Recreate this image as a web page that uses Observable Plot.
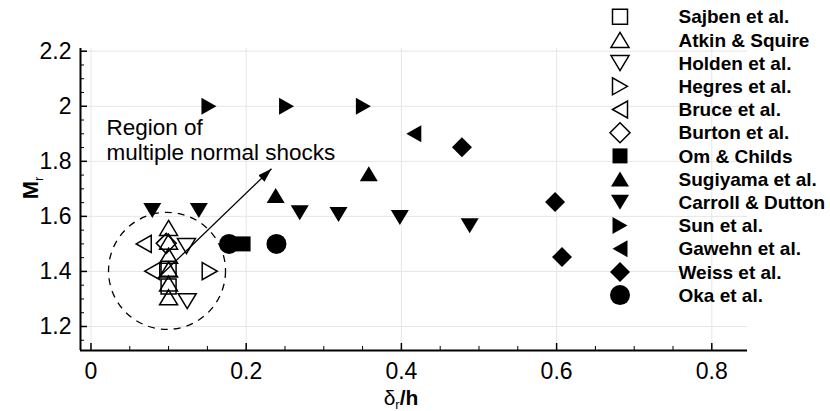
<!DOCTYPE html>
<html>
<head>
<meta charset="utf-8">
<script src="https://cdn.jsdelivr.net/npm/d3@7"></script>
<script src="https://cdn.jsdelivr.net/npm/@observablehq/plot@0.6"></script>
<style>
  html, body { margin: 0; padding: 0; background: #fff; }
  #chart { position: relative; width: 830px; height: 411px; }
</style>
</head>
<body>
<div id="chart"></div>
<script>
// ---- data ----
const seriesNames = ["Sajben et al.", "Atkin & Squire", "Holden et al.", "Hegres et al.", "Bruce et al.",
  "Burton et al.", "Om & Childs", "Sugiyama et al.", "Carroll & Dutton", "Sun et al.",
  "Gawehn et al.", "Weiss et al.", "Oka et al."];
const seriesShapes = ["square", "triUp", "triDown", "triRight", "triLeft", "diamond",
  "square", "triUp", "triDown", "triRight", "triLeft", "diamond", "circle"];
const seriesFilled = [false, false, false, false, false, false, true, true, true, true, true, true, true];

const sajben   = [[0.100, 1.410], [0.100, 1.345]];
const atkin    = [[0.100, 1.558], [0.100, 1.508], [0.100, 1.457], [0.100, 1.407], [0.100, 1.356], [0.100, 1.306]];
const holden   = [[0.123, 1.492], [0.124, 1.292]];
const hegres   = [[0.153, 1.401]];
const bruce    = [[0.068, 1.500], [0.079, 1.401]];
const burton   = [[0.097, 1.502]];
const omChilds = [[0.196, 1.500]];
const sugiyama = [[0.238, 1.676], [0.358, 1.755]];
const carroll  = [[0.079, 1.621], [0.139, 1.621], [0.269, 1.613], [0.319, 1.607], [0.398, 1.596], [0.488, 1.566]];
const sun      = [[0.152, 2.000], [0.252, 2.000], [0.351, 2.000]];
const gawehn   = [[0.416, 1.900]];
const weiss    = [[0.478, 1.851], [0.598, 1.652], [0.607, 1.452]];
const oka      = [[0.178, 1.500], [0.239, 1.500]];
const seriesData = [sajben, atkin, holden, hegres, bruce, burton, omChilds, sugiyama, carroll, sun, gawehn, weiss, oka];

const xMajor = [0, 0.2, 0.4, 0.6, 0.8];
const xMajorLabels = ["0", "0.2", "0.4", "0.6", "0.8"];
const yMajor = [1.2, 1.4, 1.6, 1.8, 2.0, 2.2];
const yMajorLabels = ["1.2", "1.4", "1.6", "1.8", "2", "2.2"];
const xMinor = [0.05, 0.1, 0.15, 0.25, 0.3, 0.35, 0.45, 0.5, 0.55, 0.65, 0.7, 0.75];
const yMinor = [1.15, 1.25, 1.3, 1.35, 1.45, 1.5, 1.55, 1.65, 1.7, 1.75, 1.85, 1.9, 1.95, 2.05, 2.1, 2.15];
const xDomain = [-0.0135, 0.846];
const yDomain = [1.1128, 2.2098];

const regionCenter = [{x: 0.098, y: 1.402}];
const regionLabel = [{x: 0.02, y: 1.879, text: "Region of\nmultiple normal shocks"}];
const arrowData = [{x1: 0.0857, y1: 1.374, x2: 0.2326, y2: 1.773}];

// ---- symbols ----
function poly(ctx, pts) {
  ctx.moveTo(pts[0][0], pts[0][1]);
  for (let i = 1; i < pts.length; ++i) ctx.lineTo(pts[i][0], pts[i][1]);
  ctx.closePath();
}
const symbols = {
  square:   {draw(c, s) { const k = Math.sqrt(s / Math.PI) / 10, h = 7.5 * k; poly(c, [[-h,-h],[h,-h],[h,h],[-h,h]]); }},
  triUp:    {draw(c, s) { const k = Math.sqrt(s / Math.PI) / 10; poly(c, [[0,-7.5*k],[9*k,7.5*k],[-9*k,7.5*k]]); }},
  triDown:  {draw(c, s) { const k = Math.sqrt(s / Math.PI) / 10; poly(c, [[0,7.5*k],[9*k,-7.5*k],[-9*k,-7.5*k]]); }},
  triRight: {draw(c, s) { const k = Math.sqrt(s / Math.PI) / 10; poly(c, [[7.5*k,0],[-7.5*k,-8.5*k],[-7.5*k,8.5*k]]); }},
  triLeft:  {draw(c, s) { const k = Math.sqrt(s / Math.PI) / 10; poly(c, [[-7.5*k,0],[7.5*k,-8.5*k],[7.5*k,8.5*k]]); }},
  diamond:  {draw(c, s) { const k = Math.sqrt(s / Math.PI) / 10; poly(c, [[0,-10*k],[10*k,0],[0,10*k],[-10*k,0]]); }},
  circle:   {draw(c, s) { const r = Math.sqrt(s / Math.PI); c.moveTo(r, 0); c.arc(0, 0, r, 0, 2 * Math.PI); c.closePath(); }}
};

const font = "'Liberation Sans', Arial, Helvetica, sans-serif";

const dotMarks = seriesData.map((pts, i) => Plot.dot(pts, {
  x: d => d[0], y: d => d[1], r: 10,
  symbol: symbols[seriesShapes[i]],
  fill: seriesFilled[i] ? "black" : "none",
  stroke: seriesFilled[i] ? "none" : "black",
  strokeWidth: 1.5
}));

const plotW = 830 - 80 - 83, plotH = 411 - 48 - 61;

const plot = Plot.plot({
  width: 830, height: 411,
  marginLeft: 80, marginRight: 83, marginTop: 48, marginBottom: 61,
  x: {domain: xDomain, axis: null},
  y: {domain: yDomain, axis: null},
  style: {fontFamily: font, fontSize: "23px", background: "white", color: "black"},
  marks: [
    Plot.ruleX(xMajor, {x: d => d, stroke: "#e6e6e6", strokeWidth: 1, strokeOpacity: 1}),
    Plot.ruleY(yMajor, {y: d => d, stroke: "#e6e6e6", strokeWidth: 1, strokeOpacity: 1}),
    // ticks (inward)
    Plot.ruleX(xMajor, {x: d => d, insetTop: plotH - 7, stroke: "black", strokeWidth: 1.5, strokeOpacity: 1}),
    Plot.ruleX(xMinor, {x: d => d, insetTop: plotH - 4, stroke: "black", strokeWidth: 1, strokeOpacity: 1}),
    Plot.ruleY(yMajor, {y: d => d, insetRight: plotW - 7, stroke: "black", strokeWidth: 1.5, strokeOpacity: 1}),
    Plot.ruleY(yMinor, {y: d => d, insetRight: plotW - 4, stroke: "black", strokeWidth: 1, strokeOpacity: 1}),
    // axis lines
    Plot.ruleX([xDomain[0]], {x: d => d, stroke: "black", strokeWidth: 2, strokeOpacity: 1}),
    Plot.ruleY([yDomain[0]], {y: d => d, stroke: "black", strokeWidth: 2, strokeOpacity: 1}),
    // tick labels
    Plot.text(xMajor, {x: d => d, text: (d, i) => xMajorLabels[i], frameAnchor: "bottom", dy: 28, fontSize: 23, fill: "black"}),
    Plot.text(yMajor, {y: d => d, text: (d, i) => yMajorLabels[i], frameAnchor: "left", textAnchor: "end", dx: -9, fontSize: 23, fill: "black"}),
    // region circle, label and arrow
    Plot.dot(regionCenter, {x: "x", y: "y", r: 58.5, fill: "none", stroke: "black", strokeWidth: 1.3, strokeDasharray: "7,6"}),
    Plot.text(regionLabel, {x: "x", y: "y", text: "text", textAnchor: "start", lineHeight: 1.08, fontSize: 22.5, fill: "black"}),
    Plot.link(arrowData, {x1: "x1", y1: "y1", x2: "x2", y2: "y2", stroke: "black", strokeWidth: 1.3}),
    ...dotMarks
  ]
});

document.getElementById("chart").appendChild(plot);

const svg = d3.select(plot);
// arrow head marker
const defs = svg.insert("defs", ":first-child");
defs.append("marker")
  .attr("id", "arrowhead").attr("markerUnits", "userSpaceOnUse")
  .attr("viewBox", "-14 -5 16 10").attr("markerWidth", 16).attr("markerHeight", 10)
  .attr("refX", 0).attr("refY", 0).attr("orient", "auto")
  .append("path").attr("d", "M0,0L-14,-4.5L-14,4.5Z").attr("fill", "black");
svg.selectAll('g[aria-label="link"] path').attr("marker-end", "url(#arrowhead)");

// axis titles
const yt = svg.append("text")
  .attr("transform", "translate(38,188) rotate(-90)")
  .attr("text-anchor", "middle")
  .attr("font-family", font).attr("font-size", 22).attr("font-weight", "bold").attr("fill", "black");
yt.append("tspan").text("M");
yt.append("tspan").attr("font-size", 13).attr("font-weight", "normal").attr("dy", 5).text("r");

const xt = svg.append("text")
  .attr("x", 401).attr("y", 405)
  .attr("text-anchor", "middle")
  .attr("font-family", font).attr("font-size", 21).attr("fill", "black");
xt.append("tspan").text("δ");
xt.append("tspan").attr("font-size", 13).attr("dy", 4).text("r");
xt.append("tspan").attr("font-weight", "bold").attr("dy", -4).text("/h");

// legend
const lg = svg.append("g").attr("font-family", font).attr("font-size", 19).attr("font-weight", "bold");
seriesNames.forEach((name, i) => {
  const g = lg.append("g").attr("transform", `translate(620,${16.7 + 23.2 * i})`);
  g.append("path")
    .attr("d", d3.symbol(symbols[seriesShapes[i]], 100 * Math.PI)())
    .attr("fill", seriesFilled[i] ? "black" : "white")
    .attr("stroke", seriesFilled[i] ? "none" : "black")
    .attr("stroke-width", 1.5);
  g.append("text").attr("x", 58.5).attr("dy", "0.35em").attr("text-anchor", "start").attr("fill", "black").text(name);
});
</script>
</body>
</html>
